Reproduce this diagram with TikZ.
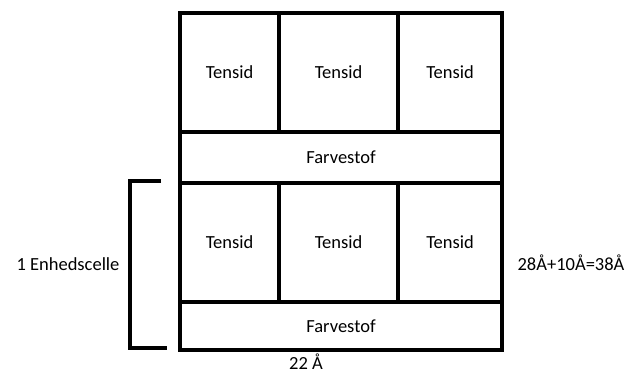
\documentclass[tikz,border=0pt]{standalone}
\usepackage{fontspec}
\setmainfont{Carlito}
\usetikzlibrary{positioning}

\begin{document}
\begin{tikzpicture}[
  x=1pt,y=-1pt,
  font=\fontsize{18.5}{20}\selectfont,
  cell/.style={draw,line width=4.5pt,inner sep=0pt,outer sep=0pt},
  tcell/.style={cell,minimum height=119pt},
  brk/.style={draw,line width=4pt}
]
\useasboundingbox (0,0) rectangle (639,373);
% oeverste lag
\node[tcell,minimum width=99pt,anchor=north west] (t1) at (180,13) {Tensid};
\node[tcell,minimum width=119pt,right=0pt of t1] (t2) {Tensid};
\node[tcell,minimum width=104pt,right=0pt of t2] (t3) {Tensid};
\node[cell,minimum width=322pt,minimum height=51pt,anchor=north west] (f1) at (t1.south west) {Farvestof};
% enhedscelle
\node[tcell,minimum width=99pt,anchor=north west] (b1) at (f1.south west) {Tensid};
\node[tcell,minimum width=119pt,right=0pt of b1] (b2) {Tensid};
\node[tcell,minimum width=104pt,right=0pt of b2] (b3) {Tensid};
\node[cell,minimum width=322pt,minimum height=48pt,anchor=north west] (f2) at (b1.south west) {Farvestof};
% klamme
\coordinate (bt) at (161,181);
\coordinate (bb) at (167,348);
\draw[brk] (bt) -- ++(-31,0) |- (bb);
\node (celle) at (68,264) {1 Enhedscelle};
\node (hoejde) at (571,263) {28Å+10Å=38Å};
\node (bredde) at (306,362) {22 Å};
\end{tikzpicture}
\end{document}
